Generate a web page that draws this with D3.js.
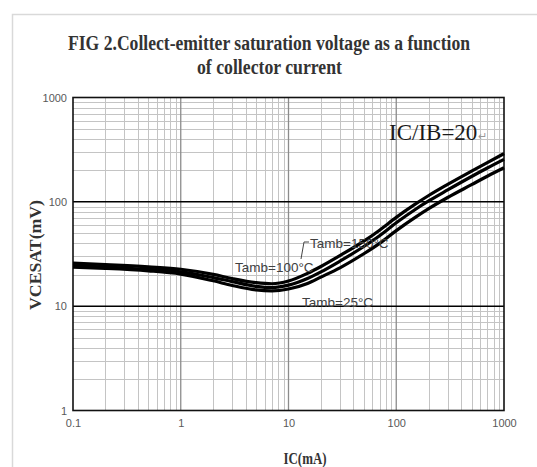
<!DOCTYPE html>
<html>
<head>
<meta charset="utf-8">
<script src="https://cdn.jsdelivr.net/npm/d3@7"></script>
<style>
  html, body { margin: 0; padding: 0; background: #fff; }
  svg { display: block; }
</style>
</head>
<body>
<svg id="chart" width="537" height="467"></svg>
<script>
// ---- data ----
const icValues = [0.1, 0.2, 0.5, 1, 2, 3, 5, 7, 10, 15, 20, 30, 50, 70, 100, 150, 200, 300, 500, 700, 1000];
const vce150 = [25.8, 25.0, 23.8, 22.6, 20.2, 18.4, 16.8, 16.4, 17.4, 20.6, 24.0, 30.5, 42.0, 53.5, 71.0, 95.0, 115, 147, 197, 238, 290];
const vce100 = [24.5, 23.7, 22.5, 21.3, 18.8, 17.2, 15.5, 15.1, 15.9, 18.4, 21.3, 27.0, 37.3, 47.3, 63.0, 84.5, 102, 130, 175, 211, 255];
const vce25  = [23.6, 23.0, 21.8, 20.3, 17.5, 15.8, 14.3, 14.0, 14.6, 16.5, 19.0, 23.3, 31.8, 40.0, 53.0, 71.0, 86, 110, 146, 176, 212];
const seriesNames = ["Tamb=150°C", "Tamb=100°C", "Tamb=25°C"];
const xTickLabels = ["0.1", "1", "10", "100", "1000"];
const yTickLabels = ["1", "10", "100", "1000"];
const titleLines = ["FIG 2.Collect-emitter saturation voltage as a function", "of collector current"];
const xTitle = "IC(mA)";
const yTitle = "VCESAT(mV)";
const noteText = "IC/IB=20";

// ---- layout ----
const svg = d3.select("#chart");
const plot = { left: 73, right: 504, top: 97.5, bottom: 410.5 };

const x = d3.scaleLog().domain([0.1, 1000]).range([plot.left, plot.right]);
const y = d3.scaleLog().domain([1, 1000]).range([plot.bottom, plot.top]);

// outer frame
svg.append("rect").attr("x", 12.5).attr("y", 14.5).attr("width", 540).attr("height", 470)
  .attr("fill", "#fff").attr("stroke", "#d9d9d9").attr("stroke-width", 1.5);

// grid: minor
const minorVals = [];
for (let d = 0.1; d < 1000; d *= 10) for (let k = 2; k <= 9; k++) minorVals.push(+(d * k).toPrecision(3));
const minorY = [];
for (let d = 1; d < 1000; d *= 10) for (let k = 2; k <= 9; k++) minorY.push(+(d * k).toPrecision(3));

const g = svg.append("g");
g.selectAll("line.vminor").data(minorVals).join("line")
  .attr("x1", d => Math.round(x(d)) + 0.5).attr("x2", d => Math.round(x(d)) + 0.5)
  .attr("y1", plot.top).attr("y2", plot.bottom)
  .attr("stroke", "#c4c4c4").attr("stroke-width", 1);
g.selectAll("line.hminor").data(minorY).join("line")
  .attr("y1", d => Math.round(y(d)) + 0.5).attr("y2", d => Math.round(y(d)) + 0.5)
  .attr("x1", plot.left).attr("x2", plot.right)
  .attr("stroke", "#c4c4c4").attr("stroke-width", 1);
// major verticals
g.selectAll("line.vmajor").data([1, 10, 100]).join("line")
  .attr("x1", d => x(d)).attr("x2", d => x(d))
  .attr("y1", plot.top).attr("y2", plot.bottom)
  .attr("stroke", "#8c8c8c").attr("stroke-width", 1.3);
// major horizontals
g.selectAll("line.hmajor").data([10, 100]).join("line")
  .attr("y1", d => y(d)).attr("y2", d => y(d))
  .attr("x1", plot.left).attr("x2", plot.right)
  .attr("stroke", "#000").attr("stroke-width", 1.5);

// plot border
svg.append("rect").attr("x", plot.left).attr("y", plot.top)
  .attr("width", plot.right - plot.left).attr("height", plot.bottom - plot.top)
  .attr("fill", "none").attr("stroke", "#111").attr("stroke-width", 1.6);

// axes (tick labels only)
const xAxis = d3.axisBottom(x).tickValues(xTickLabels.map(Number)).tickFormat((d, i) => xTickLabels[i]).tickSize(0).tickPadding(9);
const xa = svg.append("g").attr("transform", `translate(0,${plot.bottom})`).call(xAxis);
xa.select(".domain").remove();
xa.selectAll("text").attr("font-family", "Liberation Sans, Arial, sans-serif").attr("font-size", 11).attr("fill", "#595959");

const yAxis = d3.axisLeft(y).tickValues(yTickLabels.map(Number)).tickFormat((d, i) => yTickLabels[i]).tickSize(0).tickPadding(6);
const ya = svg.append("g").attr("transform", `translate(${plot.left},0)`).call(yAxis);
ya.select(".domain").remove();
ya.selectAll("text").attr("font-family", "Liberation Sans, Arial, sans-serif").attr("font-size", 11).attr("fill", "#595959");

// curves
const line = d3.line().x(d => x(d[0])).y(d => y(d[1])).curve(d3.curveMonotoneX);
[vce150, vce100, vce25].forEach(vals => {
  svg.append("path").datum(icValues.map((c, i) => [c, vals[i]]))
    .attr("d", line).attr("fill", "none").attr("stroke", "#000").attr("stroke-width", 3.2)
    .attr("stroke-linejoin", "round");
});

// series labels
const lblFont = "Liberation Sans, Arial, sans-serif";
svg.append("path").attr("d", "M309,242 L304,242 L301,259").attr("fill", "none").attr("stroke", "#444").attr("stroke-width", 1);
svg.append("text").attr("x", 310).attr("y", 248).text(seriesNames[0])
  .attr("font-family", lblFont).attr("font-size", 13.5).attr("fill", "#404040");
svg.append("text").attr("x", 235).attr("y", 272).text(seriesNames[1])
  .attr("font-family", lblFont).attr("font-size", 13.5).attr("fill", "#404040");
svg.append("text").attr("x", 302).attr("y", 307).text(seriesNames[2])
  .attr("font-family", lblFont).attr("font-size", 13.5).attr("fill", "#404040");

// note
const note = svg.append("text").attr("x", 389).attr("y", 139.5)
  .attr("font-family", "Liberation Serif, Times New Roman, serif").attr("font-size", 23).attr("fill", "#1a1a1a");
note.append("tspan").text(noteText);
note.append("tspan").text("↵").attr("font-size", 11).attr("fill", "#999").attr("dx", 1);

// title
const titleFont = "Liberation Serif, Times New Roman, serif";
svg.append("text").attr("x", 68).attr("y", 50).text(titleLines[0])
  .attr("font-family", titleFont).attr("font-weight", "bold").attr("font-size", 20).attr("fill", "#333")
  .attr("textLength", 402).attr("lengthAdjust", "spacingAndGlyphs");
svg.append("text").attr("x", 197).attr("y", 74).text(titleLines[1])
  .attr("font-family", titleFont).attr("font-weight", "bold").attr("font-size", 20).attr("fill", "#333")
  .attr("textLength", 145).attr("lengthAdjust", "spacingAndGlyphs");

// axis titles
svg.append("text").attr("x", 305).attr("y", 464).attr("text-anchor", "middle").text(xTitle)
  .attr("font-family", titleFont).attr("font-weight", "bold").attr("font-size", 16).attr("fill", "#333")
  .attr("textLength", 43).attr("lengthAdjust", "spacingAndGlyphs");
svg.append("text").attr("transform", "translate(41,255) rotate(-90)").attr("text-anchor", "middle").text(yTitle)
  .attr("font-family", titleFont).attr("font-weight", "bold").attr("font-size", 16).attr("fill", "#333")
  .attr("textLength", 110).attr("lengthAdjust", "spacingAndGlyphs");
</script>
</body>
</html>
